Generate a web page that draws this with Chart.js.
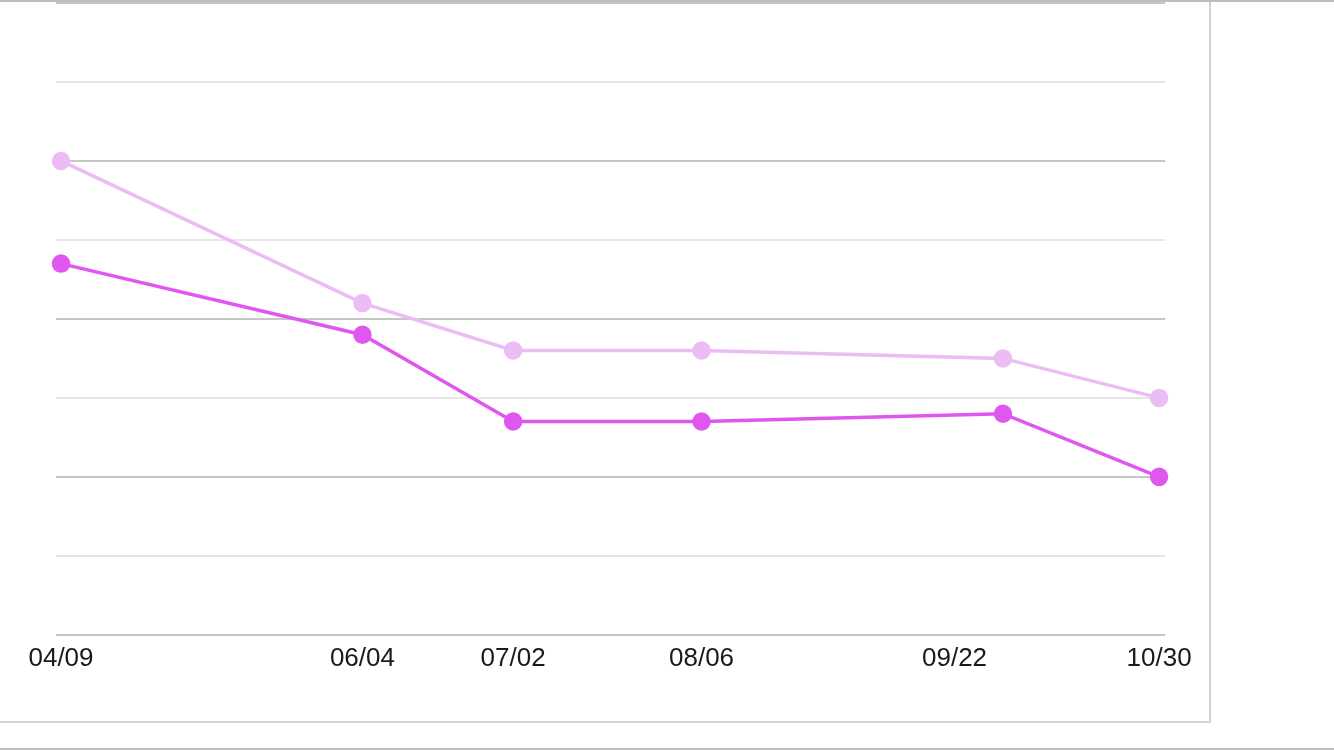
<!DOCTYPE html>
<html>
<head>
<meta charset="utf-8">
<script src="https://cdn.jsdelivr.net/npm/chart.js@4"></script>
<style>
  html, body { margin: 0; padding: 0; background: #fff; }
  body { width: 1334px; height: 750px; position: relative; overflow: hidden; }
  #panel {
    position: absolute; left: 0; top: 0; width: 1209px; height: 721px;
    border-right: 2px solid #d2d2d2; border-bottom: 2px solid #d2d2d2;
  }
  #topline { position: absolute; left: 0; top: 0; width: 1334px; height: 2px; background: #bdbdbd; }
  #botline { position: absolute; left: 0; top: 748px; width: 1334px; height: 2px; background: #bdbdbd; }
  canvas { position: absolute; left: 0; top: -8px; }
</style>
</head>
<body>
<div id="panel"></div>
<div id="topline"></div>
<div id="botline"></div>
<canvas id="chart" width="1334" height="750"></canvas>
<script>
/* ---------- Data ---------- */
// x positions in days since 04/09
const tickDays   = [0, 56, 84, 119, 166, 204];
const tickLabels = ['04/09', '06/04', '07/02', '08/06', '09/22', '10/30'];

const pointDays  = [0, 56, 84, 119, 175, 204];
const lightSeries = [60, 42, 36, 36, 35, 30];
const darkSeries  = [47, 38, 27, 27, 28, 20];

const toPoints = (vals) => vals.map((v, i) => ({ x: pointDays[i], y: v }));

/* ---------- Chart ---------- */
const ctx = document.getElementById('chart').getContext('2d');
new Chart(ctx, {
  type: 'line',
  data: {
    datasets: [
      {
        data: toPoints(lightSeries),
        borderColor: '#ecbcf4', backgroundColor: '#ecbcf4',
        borderWidth: 3.5, pointRadius: 7.5, tension: 0, clip: false
      },
      {
        data: toPoints(darkSeries),
        borderColor: '#e057f0', backgroundColor: '#e057f0',
        borderWidth: 3.5, pointRadius: 7.5, tension: 0, clip: false
      }
    ]
  },
  options: {
    responsive: false,
    animation: false,
    layout: { padding: { left: 56, top: 2, right: 169, bottom: 60 } },
    plugins: { legend: { display: false }, tooltip: { enabled: false } },
    scales: {
      x: {
        type: 'linear',
        min: -0.93, max: 205.1,
        afterBuildTicks: (axis) => { axis.ticks = tickDays.map(v => ({ value: v })); },
        ticks: {
          autoSkip: false, maxRotation: 0, padding: 8,
          color: '#1a1a1a',
          font: { family: 'Liberation Sans, Arial, sans-serif', size: 26 },
          callback: (v) => tickLabels[tickDays.indexOf(v)]
        },
        grid: { display: false, drawTicks: false },
        border: { display: false }
      },
      y: {
        min: 0, max: 80,
        ticks: { display: false, stepSize: 10 },
        grid: {
          drawTicks: false, lineWidth: 2,
          color: (c) => (c.tick.value % 20 === 0 ? '#c6c6c6' : '#e6e6e6')
        },
        border: { display: false }
      }
    }
  }
});
</script>
</body>
</html>
